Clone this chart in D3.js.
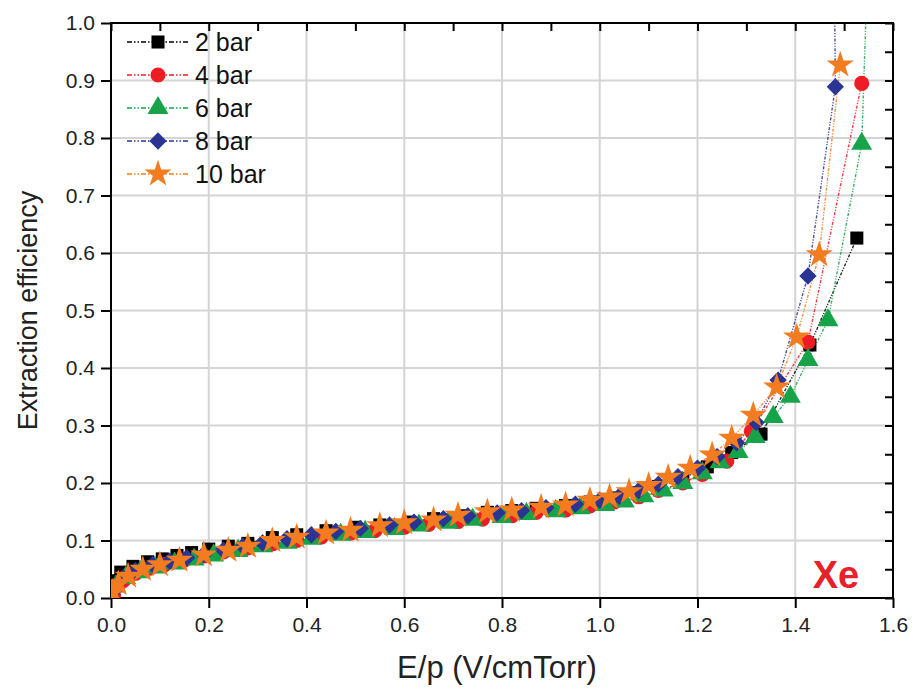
<!DOCTYPE html>
<html>
<head>
<meta charset="utf-8">
<script src="https://cdn.jsdelivr.net/npm/d3@7"></script>
<style>
  body { margin: 0; background: #fff; }
  text { font-family: "Liberation Sans", Arial, sans-serif; }
</style>
</head>
<body>
<svg id="chart" width="915" height="692"></svg>
<script>
// data
const seriesNames = ["2 bar", "4 bar", "6 bar", "8 bar", "10 bar"];

const x2bar = [0.003, 0.02, 0.045, 0.075, 0.105, 0.135, 0.165, 0.20, 0.24, 0.28, 0.33, 0.38, 0.44, 0.50, 0.55, 0.61, 0.66, 0.72, 0.77, 0.82, 0.87, 0.93, 0.98, 1.03, 1.08, 1.12, 1.17, 1.22, 1.27, 1.33, 1.43, 1.526];
const y2bar = [0.03, 0.045, 0.055, 0.063, 0.068, 0.074, 0.079, 0.085, 0.09, 0.095, 0.105, 0.11, 0.117, 0.123, 0.127, 0.132, 0.138, 0.143, 0.149, 0.152, 0.156, 0.161, 0.167, 0.174, 0.183, 0.194, 0.208, 0.228, 0.253, 0.285, 0.44, 0.626];

const x4bar = [0.005, 0.025, 0.05, 0.08, 0.11, 0.15, 0.19, 0.23, 0.28, 0.33, 0.38, 0.43, 0.49, 0.54, 0.60, 0.65, 0.71, 0.76, 0.82, 0.87, 0.93, 0.98, 1.03, 1.08, 1.12, 1.17, 1.21, 1.26, 1.31, 1.426, 1.536];
const y4bar = [0.005, 0.03, 0.043, 0.052, 0.058, 0.066, 0.073, 0.08, 0.087, 0.094, 0.1, 0.106, 0.113, 0.117, 0.123, 0.128, 0.133, 0.137, 0.143, 0.149, 0.153, 0.16, 0.167, 0.176, 0.187, 0.2, 0.215, 0.238, 0.29, 0.445, 0.895];

const x6bar = [0.01, 0.03, 0.06, 0.09, 0.13, 0.17, 0.21, 0.26, 0.31, 0.36, 0.41, 0.47, 0.52, 0.58, 0.63, 0.69, 0.74, 0.80, 0.85, 0.91, 0.96, 1.01, 1.05, 1.09, 1.13, 1.17, 1.21, 1.246, 1.283, 1.318, 1.355, 1.39, 1.426, 1.467, 1.536, 1.552];
const y6bar = [0.02, 0.035, 0.045, 0.053, 0.06, 0.067, 0.074, 0.082, 0.09, 0.096, 0.103, 0.11, 0.115, 0.12, 0.126, 0.131, 0.136, 0.141, 0.146, 0.151, 0.156, 0.162, 0.168, 0.177, 0.187, 0.2, 0.217, 0.236, 0.254, 0.28, 0.315, 0.35, 0.414, 0.483, 0.79, 1.2];

const x8bar = [0.008, 0.025, 0.05, 0.085, 0.12, 0.155, 0.19, 0.23, 0.27, 0.31, 0.36, 0.41, 0.46, 0.51, 0.57, 0.62, 0.68, 0.73, 0.79, 0.84, 0.89, 0.95, 1.0, 1.04, 1.08, 1.12, 1.16, 1.20, 1.24, 1.28, 1.32, 1.365, 1.426, 1.482, 1.478];
const y8bar = [0.015, 0.035, 0.048, 0.058, 0.064, 0.07, 0.076, 0.083, 0.09, 0.096, 0.103, 0.11, 0.116, 0.121, 0.127, 0.132, 0.138, 0.143, 0.148, 0.152, 0.157, 0.163, 0.17, 0.177, 0.187, 0.198, 0.211, 0.226, 0.246, 0.27, 0.305, 0.379, 0.56, 0.889, 1.3];

const x10bar = [0.003, 0.015, 0.035, 0.065, 0.10, 0.14, 0.19, 0.24, 0.28, 0.33, 0.38, 0.44, 0.49, 0.55, 0.60, 0.66, 0.71, 0.77, 0.82, 0.88, 0.93, 0.98, 1.02, 1.06, 1.10, 1.14, 1.185, 1.23, 1.27, 1.314, 1.362, 1.403, 1.449, 1.492];
const y10bar = [0.01, 0.025, 0.038, 0.05, 0.058, 0.066, 0.075, 0.083, 0.09, 0.1, 0.106, 0.113, 0.118, 0.126, 0.131, 0.136, 0.144, 0.15, 0.153, 0.158, 0.162, 0.17, 0.176, 0.185, 0.196, 0.21, 0.226, 0.249, 0.278, 0.318, 0.367, 0.454, 0.597, 0.927];

const xTicks = [0.0, 0.2, 0.4, 0.6, 0.8, 1.0, 1.2, 1.4, 1.6];
const yTicks = [0.0, 0.1, 0.2, 0.3, 0.4, 0.5, 0.6, 0.7, 0.8, 0.9, 1.0];

const colors = ["#000000", "#ee1d25", "#16a34a", "#2a3593", "#f47c20"];
const symbols = [d3.symbolSquare, d3.symbolCircle, d3.symbolTriangle, d3.symbolSquare, d3.symbolStar];
const symSizes = [170, 180, 190, 150, 230];
const symRotate = [0, 0, 0, 45, 0];

const xs = [x2bar, x4bar, x6bar, x8bar, x10bar];
const ys = [y2bar, y4bar, y6bar, y8bar, y10bar];
const series = seriesNames.map((name, i) => ({
    name: name,
    color: colors[i],
    points: xs[i].map((xv, j) => ({x: xv, y: ys[i][j]}))
}));

const margin = {top: 23, right: 22, bottom: 94, left: 111},
    width = 915 - margin.left - margin.right,
    height = 692 - margin.top - margin.bottom;

const svg = d3.select("#chart");
const g = svg.append("g").attr("transform", `translate(${margin.left},${margin.top})`);

const x = d3.scaleLinear().domain([0, 1.6]).range([0, width]);
const y = d3.scaleLinear().domain([0, 1.0]).range([height, 0]);

// grid
g.append("g").selectAll("line").data(xTicks.slice(1, -1)).join("line")
    .attr("x1", d => x(d)).attr("x2", d => x(d)).attr("y1", 0).attr("y2", height)
    .attr("stroke", "#d4d4d4").attr("stroke-width", 2);
g.append("g").selectAll("line").data(yTicks.slice(1, -1)).join("line")
    .attr("y1", d => y(d)).attr("y2", d => y(d)).attr("x1", 0).attr("x2", width)
    .attr("stroke", "#d4d4d4").attr("stroke-width", 2);

// axes: outward ticks on left/bottom, inward on top/right
const fmt = d3.format(".1f");
const xMinor = d3.range(0, 17).map(i => i / 10);
const yMinor = d3.range(0, 21).map(i => i / 20);

const bottomAxis = g.append("g").attr("transform", `translate(0,${height})`)
    .call(d3.axisBottom(x).tickValues(xMinor).tickSize(8).tickFormat(""));
bottomAxis.call(d3.axisBottom(x).tickValues(xTicks).tickSize(10).tickPadding(9).tickFormat(fmt));
const leftAxis = g.append("g")
    .call(d3.axisLeft(y).tickValues(yMinor).tickSize(8).tickFormat(""));
leftAxis.call(d3.axisLeft(y).tickValues(yTicks).tickSize(10).tickPadding(6).tickFormat(fmt));
g.append("g").call(d3.axisTop(x).tickValues(xMinor).tickSize(-8).tickFormat(""));
g.append("g").attr("transform", `translate(${width},0)`)
    .call(d3.axisRight(y).tickValues(yMinor).tickSize(-8).tickFormat(""));

g.selectAll(".domain").remove();
g.selectAll(".tick line").attr("stroke", "#000").attr("stroke-width", 2);
g.selectAll(".tick text").attr("font-size", 21).attr("fill", "#222")
    .style("font-family", "'Liberation Sans', Arial, sans-serif");

// frame
g.append("rect").attr("width", width).attr("height", height)
    .attr("fill", "none").attr("stroke", "#000").attr("stroke-width", 2);

// clip
svg.append("defs").append("clipPath").attr("id", "plotClip")
    .append("rect").attr("width", width).attr("height", height);
const plot = g.append("g").attr("clip-path", "url(#plotClip)");

const line = d3.line().x(d => x(d.x)).y(d => y(d.y));

series.forEach((s, i) => {
    plot.append("path").datum(s.points)
        .attr("d", line)
        .attr("fill", "none")
        .attr("stroke", s.color)
        .attr("stroke-width", 1.4)
        .attr("stroke-dasharray", "3,1.5,1.2,1.5,1.2,1.5")
        .attr("opacity", 0.85);
});
series.forEach((s, i) => {
    plot.append("g").selectAll("path").data(s.points).join("path")
        .attr("transform", d => `translate(${x(d.x)},${y(d.y)}) rotate(${symRotate[i]})`)
        .attr("d", d3.symbol().type(symbols[i]).size(symSizes[i]))
        .attr("fill", s.color);
});

// legend
const legend = g.append("g").attr("transform", "translate(16,19)");
series.forEach((s, i) => {
    const row = legend.append("g").attr("transform", `translate(0,${i * 33})`);
    row.append("line").attr("x1", 0).attr("x2", 61).attr("y1", 0).attr("y2", 0)
        .attr("stroke", s.color).attr("stroke-width", 1.6)
        .attr("stroke-dasharray", "5,2,1.5,2,1.5,2");
    row.append("path")
        .attr("transform", `translate(31,0) rotate(${symRotate[i]})`)
        .attr("d", d3.symbol().type(symbols[i]).size(symSizes[i]))
        .attr("fill", s.color);
    row.append("text").attr("x", 68).attr("y", 9)
        .attr("font-size", 25).attr("fill", "#111").text(s.name);
});

// Xe label
g.append("text").attr("x", width - 57).attr("y", height - 10)
    .attr("text-anchor", "middle").attr("font-size", 38).attr("font-weight", "bold")
    .attr("fill", "#e8202a").text("Xe");

// axis titles
svg.append("text").attr("x", margin.left + width / 2 - 5).attr("y", 678)
    .attr("text-anchor", "middle").attr("font-size", 31).attr("fill", "#222")
    .text("E/p (V/cmTorr)");
svg.append("text")
    .attr("transform", `translate(37,${margin.top + height / 2}) rotate(-90)`)
    .attr("text-anchor", "middle").attr("font-size", 27).attr("fill", "#222")
    .text("Extraction efficiency");
</script>
</body>
</html>
